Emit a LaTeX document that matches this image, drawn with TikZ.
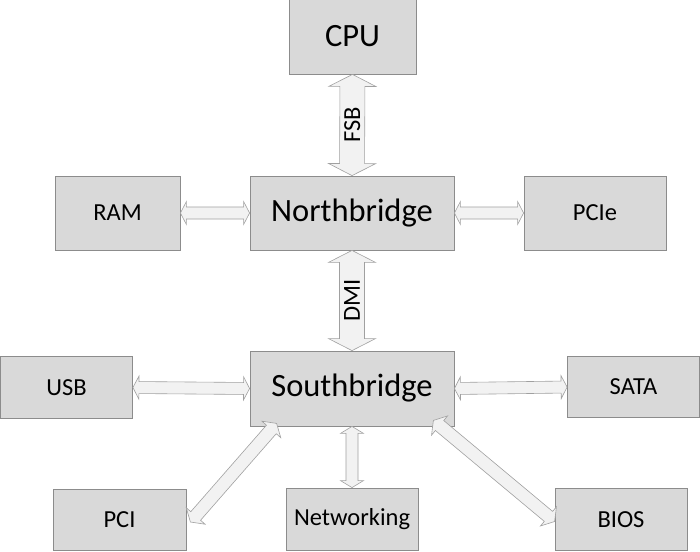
\documentclass[tikz,border=0pt]{standalone}
\usepackage{fontspec}
\setmainfont{Carlito}
\usetikzlibrary{calc}
\definecolor{boxfill}{HTML}{D9D9D9}
\definecolor{boxline}{HTML}{8C8C8C}
\definecolor{arrfill}{HTML}{F2F2F2}
\definecolor{arrline}{HTML}{A0A0A0}
% #1 start, #2 end, #3 half shaft width, #4 half head width, #5 head length
\newcommand\fatarr[5]{%
  \draw[fatarrow] (#1)
    -- ($(#1)!#5!(#2)!#4!90:(#2)$) -- ($(#1)!#5!(#2)!#3!90:(#2)$)
    -- ($(#2)!#5!(#1)!#3!-90:(#1)$) -- ($(#2)!#5!(#1)!#4!-90:(#1)$)
    -- (#2)
    -- ($(#2)!#5!(#1)!#4!90:(#1)$) -- ($(#2)!#5!(#1)!#3!90:(#1)$)
    -- ($(#1)!#5!(#2)!#3!-90:(#2)$) -- ($(#1)!#5!(#2)!#4!-90:(#2)$)
    -- cycle;}
\begin{document}
\begin{tikzpicture}[x=1pt,y=-1pt,
  box/.style={draw=boxline, fill=boxfill, line width=0.8pt, inner sep=0pt,
    font=\fontsize{24.5}{28}\selectfont, text=black},
  bigbox/.style={box, font=\fontsize{32.5}{38}\selectfont},
  lbl/.style={rotate=90, inner sep=0pt, font=\fontsize{24.5}{28}\selectfont, text=black},
  fatarrow/.style={draw=arrline, fill=arrfill, line width=0.6pt, line join=miter}]
\useasboundingbox (0,0) rectangle (700,551);
% boxes
\node[bigbox, minimum width=127pt, minimum height=75pt] (cpu) at (352.5,36.5) {CPU};
\node[bigbox, minimum width=204pt, minimum height=74pt] (nb) at (352,213) {Northbridge};
\node[box, minimum width=125pt, minimum height=74pt] (ram) at (117.5,213) {RAM};
\node[box, minimum width=142pt, minimum height=74pt] (pcie) at (595,213) {PCIe};
\node[bigbox, minimum width=204pt, minimum height=75pt] (sb) at (352,388.5) {Southbridge};
\node[box, minimum width=132pt, minimum height=62pt] (usb) at (66.5,387.5) {USB};
\node[box, minimum width=132pt, minimum height=61pt] (sata) at (633.5,387) {SATA};
\node[box, minimum width=133pt, minimum height=61pt] (pci) at (119.5,519.5) {PCI};
\node[box, minimum width=132pt, minimum height=62pt] (net) at (352,519) {Networking};
\node[box, minimum width=132pt, minimum height=62pt] (bios) at (621,519.5) {BIOS};
% connectors
\fatarr{cpu.south}{nb.north}{12.5pt}{23.5pt}{12pt}
\fatarr{nb.south}{sb.north}{12.5pt}{23.5pt}{12pt}
\fatarr{ram.east}{nb.west}{6pt}{11.5pt}{6pt}
\fatarr{nb.east}{pcie.west}{6pt}{11.5pt}{6pt}
\fatarr{usb.east}{sb.west}{6pt}{11.5pt}{6pt}
\fatarr{sb.east}{sata.west}{6pt}{11.5pt}{6pt}
\fatarr{sb.south}{net.north}{6pt}{11.5pt}{7pt}
\coordinate (pciA) at ($(pci.east)+(4,2.5)$);
\coordinate (pciB) at ($(sb.south west)+(27,-3)$);
\fatarr{pciA}{pciB}{6.5pt}{12.5pt}{8pt}
\coordinate (biosA) at ($(sb.south east)+(-21,-6)$);
\coordinate (biosB) at ($(bios.west)+(0,2)$);
\fatarr{biosA}{biosB}{6.5pt}{12.5pt}{8pt}
% bus labels
\node[lbl] (fsb) at ($(cpu.south)!0.5!(nb.north)$) {FSB};
\node[lbl] (dmi) at ($(nb.south)!0.5!(sb.north)$) {DMI};
\end{tikzpicture}
\end{document}
